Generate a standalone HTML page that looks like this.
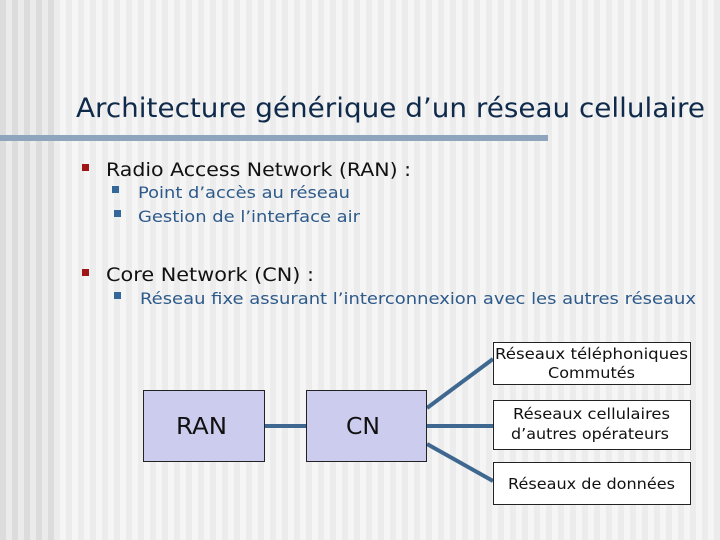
<!DOCTYPE html>
<html><head><meta charset="utf-8"><style>
html,body{margin:0;padding:0}
body{width:720px;height:540px;overflow:hidden;position:relative;
background:
repeating-linear-gradient(90deg,#dcdcdc 0 6px,#ebebeb 6px 12px) 0 0/54px 100% no-repeat,
repeating-linear-gradient(90deg,#f5f5f5 0 6px,#ececec 6px 12px);
font-family:"DejaVu Sans","Liberation Sans",sans-serif;}
svg{position:absolute;left:0;top:0}
</style></head><body>
<svg width="720" height="540" xmlns="http://www.w3.org/2000/svg" font-family="DejaVu Sans, Liberation Sans, sans-serif">
<text x="76" y="117" font-size="27" fill="#0f2a4a" textLength="629" lengthAdjust="spacingAndGlyphs">Architecture générique d’un réseau cellulaire</text>
<rect x="0" y="135" width="548" height="6" fill="#8fa5bd"/>
<rect x="82" y="164" width="7" height="7" fill="#a01515"/>
<text x="106" y="176" font-size="19" fill="#111" textLength="305" lengthAdjust="spacingAndGlyphs">Radio Access Network (RAN) :</text>
<rect x="112" y="186" width="7" height="7" fill="#336699"/>
<text x="138" y="198" font-size="16" fill="#2d5a8a" textLength="212" lengthAdjust="spacingAndGlyphs">Point d’accès au réseau</text>
<rect x="114" y="210" width="7" height="7" fill="#336699"/>
<text x="138" y="222" font-size="16" fill="#2d5a8a" textLength="222" lengthAdjust="spacingAndGlyphs">Gestion de l’interface air</text>
<rect x="82" y="269" width="7" height="7" fill="#a01515"/>
<text x="106" y="281" font-size="19" fill="#111" textLength="208" lengthAdjust="spacingAndGlyphs">Core Network (CN) :</text>
<rect x="114" y="292" width="7" height="7" fill="#336699"/>
<text x="140" y="304" font-size="16" fill="#2d5a8a" textLength="556" lengthAdjust="spacingAndGlyphs">Réseau fixe assurant l’interconnexion avec les autres réseaux</text>
<g stroke="#3f6890" stroke-width="4">
<line x1="265" y1="426" x2="306" y2="426"/>
<line x1="427" y1="408" x2="493" y2="359"/>
<line x1="427" y1="426" x2="493" y2="426"/>
<line x1="427" y1="444" x2="493" y2="481"/>
</g>
<rect x="143.5" y="390.5" width="121" height="71" fill="#ccccee" stroke="#222" stroke-width="1"/>
<rect x="306.5" y="390.5" width="120" height="71" fill="#ccccee" stroke="#222" stroke-width="1"/>
<text x="176" y="434" font-size="23" fill="#111" textLength="51" lengthAdjust="spacingAndGlyphs">RAN</text>
<text x="346" y="434" font-size="23" fill="#111" textLength="34" lengthAdjust="spacingAndGlyphs">CN</text>
<g fill="#fff" stroke="#222" stroke-width="1">
<rect x="493.5" y="342.5" width="197" height="42"/>
<rect x="493.5" y="400.5" width="197" height="49"/>
<rect x="493.5" y="462.5" width="197" height="42"/>
</g>
<g font-size="15" fill="#111" lengthAdjust="spacingAndGlyphs">
<text x="495" y="359" textLength="193" lengthAdjust="spacingAndGlyphs">Réseaux téléphoniques</text>
<text x="548" y="378" textLength="87" lengthAdjust="spacingAndGlyphs">Commutés</text>
<text x="513" y="419" textLength="157" lengthAdjust="spacingAndGlyphs">Réseaux cellulaires</text>
<text x="511" y="439" textLength="158" lengthAdjust="spacingAndGlyphs">d’autres opérateurs</text>
<text x="508" y="489" textLength="167" lengthAdjust="spacingAndGlyphs">Réseaux de données</text>
</g>
</svg>
</body></html>
